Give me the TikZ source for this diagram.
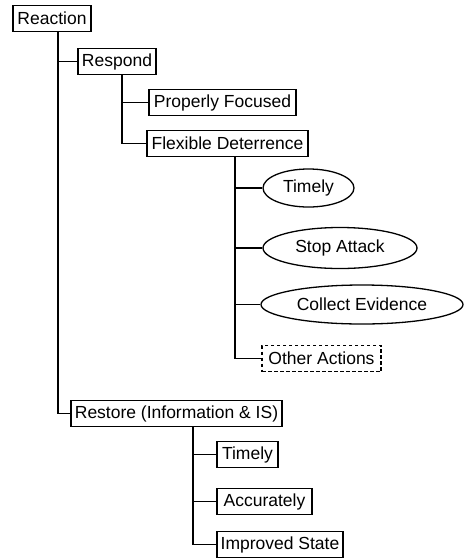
\documentclass[tikz,border=0pt]{standalone}
\usepackage{fontspec}
\setmainfont{Liberation Sans}
\usetikzlibrary{shapes.geometric}
\begin{document}
\begin{tikzpicture}[x=1pt,y=-1pt,
  every node/.style={font=\fontsize{17.5}{19}\selectfont, inner sep=0pt},
  box/.style={draw, line width=1.3pt, rectangle, minimum height=26pt},
  dbox/.style={box, dashed, dash pattern=on 3.5pt off 2.5pt},
  oval/.style={draw, line width=1.3pt, ellipse},
  link/.style={line width=1.3pt}]
\useasboundingbox (0,0) rectangle (464,558);
% nodes
\node[box, minimum width=78pt]  (reaction) at (52,18.5) {Reaction};
\node[box, minimum width=78pt]  (respond)  at (117,61.5) {Respond};
\node[box, minimum width=147pt] (focused)  at (222.5,102.5) {Properly Focused};
\node[box, minimum width=161pt] (flex)     at (227.5,143.5) {Flexible Deterrence};
\node[oval, minimum width=91pt, minimum height=38pt]  (ftimely)  at (308.5,188) {Timely};
\node[oval, minimum width=154pt, minimum height=41pt] (stop)     at (340,248) {Stop Attack};
\node[oval, minimum width=202pt, minimum height=39pt] (evidence) at (362,304.5) {Collect Evidence};
\node[dbox, minimum width=119pt] (other)   at (321.5,358.5) {Other Actions};
\node[box, minimum width=211pt] (restore)  at (176.5,413.5) {Restore (Information \& IS)};
\node[box, minimum width=61pt]  (rtimely)  at (247.5,454.5) {Timely};
\node[box, minimum width=95pt]  (accur)    at (264.5,501.5) {Accurately};
\node[box, minimum width=126pt] (improved) at (280,544.5) {Improved State};
% connectors
\coordinate (t0) at ([xshift=6pt]reaction.south);
\coordinate (t1) at ([xshift=5pt]respond.south);
\coordinate (t2) at ([xshift=7.5pt]flex.south);
\coordinate (t3) at ([xshift=16.5pt]restore.south);
\draw[link] (t0) |- (respond.west);
\draw[link] (t0) |- (restore.west);
\draw[link] (t1) |- (focused.west);
\draw[link] (t1) |- (flex.west);
\draw[link] (t2) |- (ftimely.west);
\draw[link] (t2) |- (stop.west);
\draw[link] (t2) |- (evidence.west);
\draw[link] (t2) |- (other.west);
\draw[link] (t3) |- (rtimely.west);
\draw[link] (t3) |- (accur.west);
\draw[link] (t3) |- (improved.west);
\end{tikzpicture}
\end{document}
